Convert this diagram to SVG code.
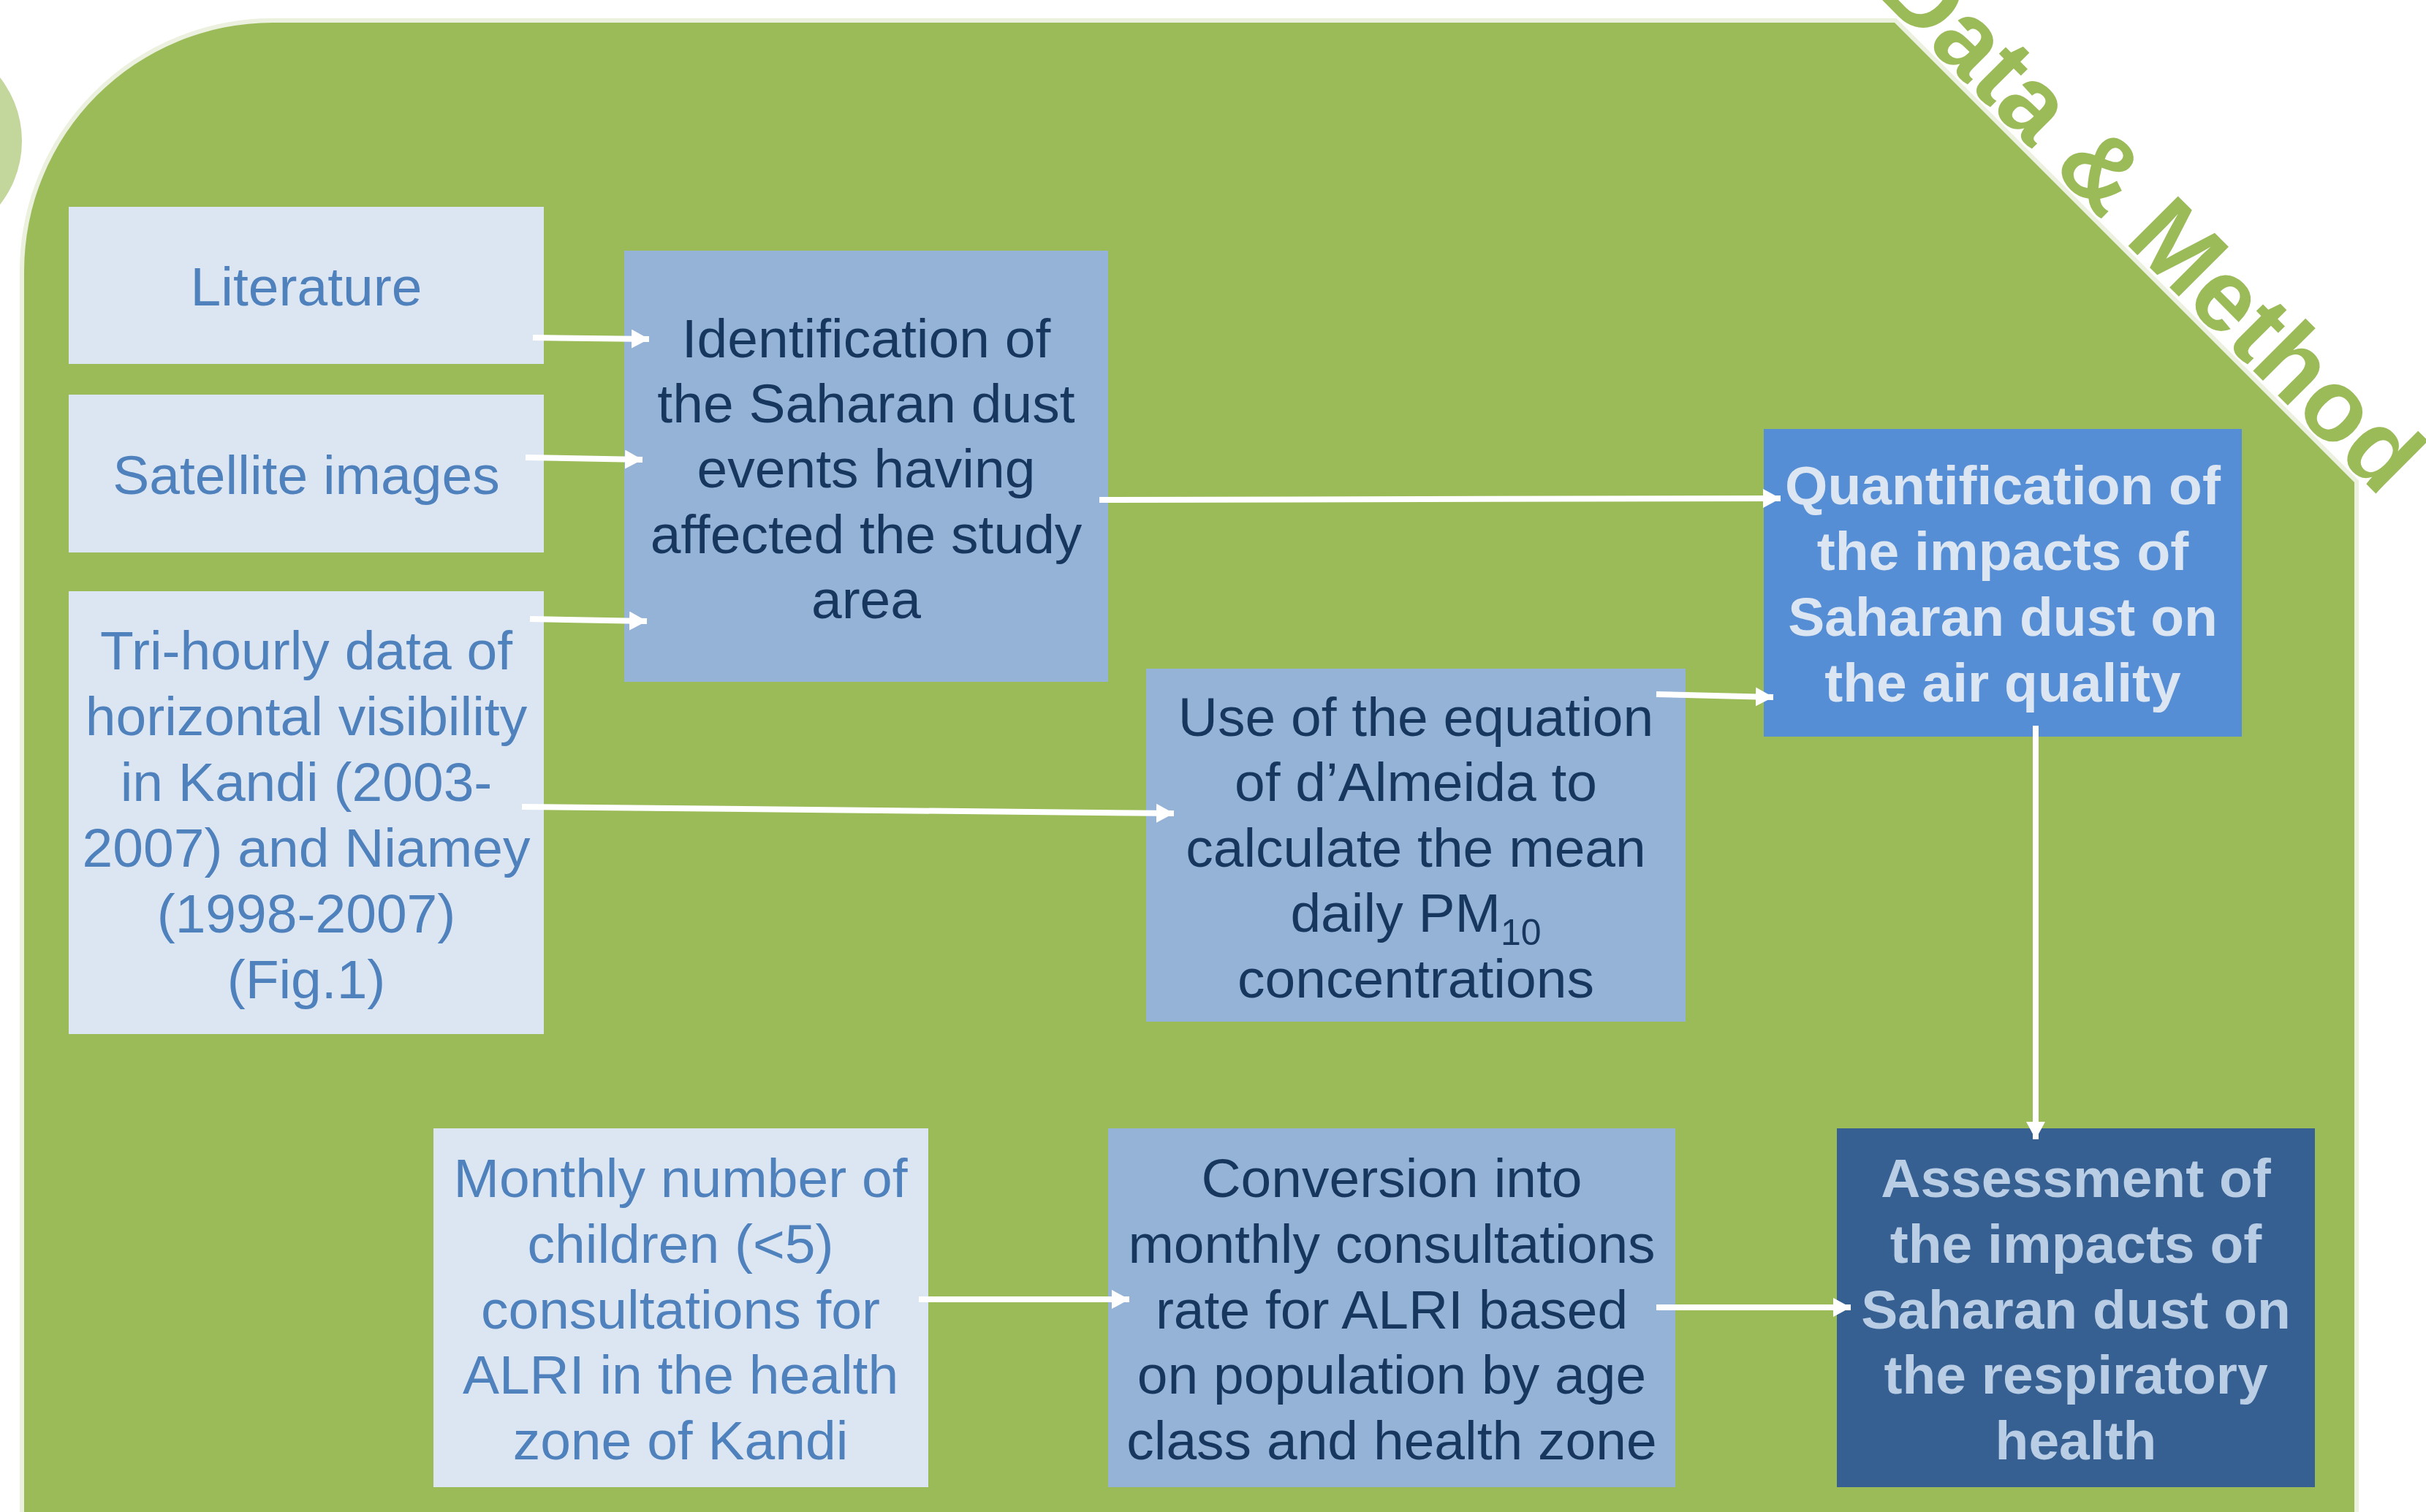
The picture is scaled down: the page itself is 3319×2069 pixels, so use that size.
<svg xmlns="http://www.w3.org/2000/svg" width="3319" height="2069" viewBox="0 0 3319 2069">
  <style>
    text { font-family: "Liberation Sans", Arial, sans-serif; text-anchor: middle; }
    .t { font-size: 75px; }
    .b { font-size: 75px; font-weight: bold; }
    .light rect { fill: #dce6f2; }
    .light text { fill: #4f81bd; }
    .mid rect { fill: #95b3d7; }
    .mid text { fill: #17375e; }
    .quant rect { fill: #558ed5; }
    .quant text { fill: #dce6f2; }
    .assess rect { fill: #376092; }
    .assess text { fill: #b9cde5; }
    .conn line { stroke: #ffffff; stroke-width: 8; marker-end: url(#ah); }
  </style>
  <defs>
    <marker id="ah" markerUnits="userSpaceOnUse" markerWidth="24" markerHeight="26" refX="24" refY="13" orient="auto">
      <path d="M0,0 L24,13 L0,26 Z" fill="#ffffff"/>
    </marker>
  </defs>

  <rect x="0" y="0" width="3319" height="2069" fill="#ffffff"/>

  <g id="background">
    <circle cx="-111" cy="193" r="141" fill="#c3d69b"/>
    <path d="M33,2100 L33,371 A340,340 0 0 1 373,31 L2592,31 L3221,660 L3221,2100 Z" fill="none" stroke="#ebf1de" stroke-width="12"/>
    <path d="M33,2100 L33,371 A340,340 0 0 1 373,31 L2592,31 L3221,660 L3221,2100 Z" fill="#9bbb59"/>
    <text transform="translate(2564,-11) rotate(45)" style="text-anchor:start" font-size="140" font-weight="bold" fill="#9bbb59">Data &amp; Method</text>
  </g>

  <g id="literature" class="light">
    <rect x="94" y="283" width="650" height="215"/>
    <text class="t" x="419" y="418">Literature</text>
  </g>

  <g id="satellite" class="light">
    <rect x="94" y="540" width="650" height="216"/>
    <text class="t" x="419" y="676">Satellite images</text>
  </g>

  <g id="trihourly" class="light">
    <rect x="94" y="809" width="650" height="606"/>
    <text class="t" x="419" y="916">Tri-hourly data of</text>
    <text class="t" x="419" y="1006">horizontal visibility</text>
    <text class="t" x="419" y="1096">in Kandi (2003-</text>
    <text class="t" x="419" y="1186">2007) and Niamey</text>
    <text class="t" x="419" y="1276">(1998-2007)</text>
    <text class="t" x="419" y="1366">(Fig.1)</text>
  </g>

  <g id="identification" class="mid">
    <rect x="854" y="343" width="662" height="590"/>
    <text class="t" x="1185" y="489">Identification of</text>
    <text class="t" x="1185" y="578">the Saharan dust</text>
    <text class="t" x="1185" y="667">events having</text>
    <text class="t" x="1185" y="757">affected the study</text>
    <text class="t" x="1185" y="846">area</text>
  </g>

  <g id="equation" class="mid">
    <rect x="1568" y="915" width="738" height="483"/>
    <text class="t" x="1937" y="1007">Use of the equation</text>
    <text class="t" x="1937" y="1096">of d’Almeida to</text>
    <text class="t" x="1937" y="1186">calculate the mean</text>
    <text class="t" x="1937" y="1275">daily PM<tspan font-size="50" dy="18">10</tspan></text>
    <text class="t" x="1937" y="1365">concentrations</text>
  </g>

  <g id="quantification" class="quant">
    <rect x="2413" y="587" width="654" height="421"/>
    <text class="b" x="2740" y="690">Quantification of</text>
    <text class="b" x="2740" y="780">the impacts of</text>
    <text class="b" x="2740" y="870">Saharan dust on</text>
    <text class="b" x="2740" y="960">the air quality</text>
  </g>

  <g id="monthly" class="light">
    <rect x="593" y="1544" width="677" height="491"/>
    <text class="t" x="931" y="1638">Monthly number of</text>
    <text class="t" x="931" y="1728">children (&lt;5)</text>
    <text class="t" x="931" y="1818">consultations for</text>
    <text class="t" x="931" y="1907">ALRI in the health</text>
    <text class="t" x="931" y="1997">zone of Kandi</text>
  </g>

  <g id="conversion" class="mid">
    <rect x="1516" y="1544" width="776" height="491"/>
    <text class="t" x="1904" y="1638">Conversion into</text>
    <text class="t" x="1904" y="1728">monthly consultations</text>
    <text class="t" x="1904" y="1818">rate for ALRI based</text>
    <text class="t" x="1904" y="1907">on population by age</text>
    <text class="t" x="1904" y="1997">class and health zone</text>
  </g>

  <g id="assessment" class="assess">
    <rect x="2513" y="1544" width="654" height="491"/>
    <text class="b" x="2840" y="1638">Assessment of</text>
    <text class="b" x="2840" y="1728">the impacts of</text>
    <text class="b" x="2840" y="1818">Saharan dust on</text>
    <text class="b" x="2840" y="1907">the respiratory</text>
    <text class="b" x="2840" y="1997">health</text>
  </g>

  <g id="connectors" class="conn">
    <line x1="729" y1="462" x2="888" y2="464"/>
    <line x1="719" y1="626" x2="879" y2="629"/>
    <line x1="725" y1="847" x2="885" y2="850"/>
    <line x1="1504" y1="684" x2="2436" y2="682"/>
    <line x1="714" y1="1104" x2="1606" y2="1113"/>
    <line x1="2266" y1="950" x2="2426" y2="954"/>
    <line x1="2785" y1="993" x2="2785" y2="1559"/>
    <line x1="1257" y1="1778" x2="1545" y2="1778"/>
    <line x1="2266" y1="1789" x2="2532" y2="1789"/>
  </g>
</svg>
